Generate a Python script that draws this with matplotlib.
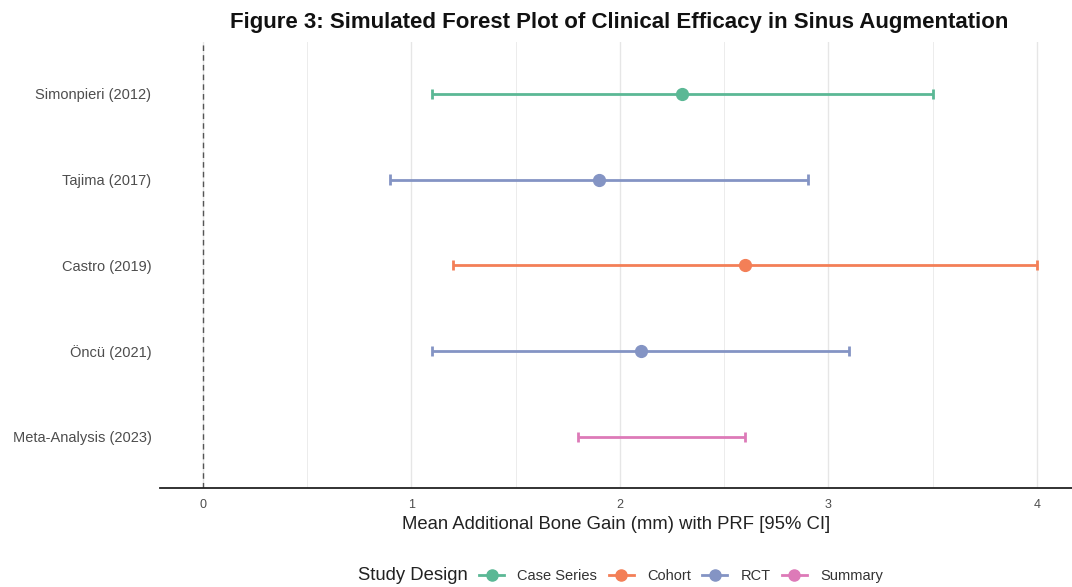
import matplotlib

matplotlib.use("Agg")
import matplotlib.pyplot as plt
import numpy as np
from matplotlib.lines import Line2D

plt.rcParams["font.family"] = ["Liberation Sans", "DejaVu Sans"]

# Data
studies = [
    "Simonpieri (2012)",
    "Tajima (2017)",
    "Castro (2019)",
    "Öncü (2021)",
    "Meta-Analysis (2023)",
]
estimate = [2.3, 1.9, 2.6, 2.1, np.nan]
ci_low = [1.1, 0.9, 1.2, 1.1, 1.8]
ci_high = [3.5, 2.9, 4.0, 3.1, 2.6]
design = ["Case Series", "RCT", "Cohort", "RCT", "Summary"]

design_order = ["Case Series", "Cohort", "RCT", "Summary"]
palette = {
    "Case Series": "#5bb895",
    "Cohort": "#f37f57",
    "RCT": "#8494c4",
    "Summary": "#dd7ab8",
}

fig = plt.figure(figsize=(10.72, 5.87), dpi=100)
ax = fig.add_axes([0.149, 0.168, 0.851, 0.760])

# top row first, like ggplot's discrete axis
ypos = np.arange(len(studies))[::-1] + 1

for y, est, lo, hi, d in zip(ypos, estimate, ci_low, ci_high, design):
    col = palette[d]
    ax.hlines(y, lo, hi, color=col, linewidth=2.0, zorder=3)
    ax.vlines([lo, hi], y - 0.06, y + 0.06, color=col, linewidth=2.0, zorder=3)
    if not np.isnan(est):
        ax.plot(est, y, "o", color=col, markersize=8.5, zorder=4)

ax.axvline(0, color="#555555", linestyle=(0, (4, 3)), linewidth=1.0, zorder=2)

ax.set_xlim(-0.206, 4.168)
ax.set_ylim(0.4, len(studies) + 0.6)
ax.set_yticks(ypos)
ax.set_yticklabels(studies)
ax.set_xticks([0, 1, 2, 3, 4])
ax.set_xticks([0.5, 1.5, 2.5, 3.5], minor=True)
ax.grid(axis="x", which="major", color="#e6e6e6", linewidth=1.0, zorder=0)
ax.grid(axis="x", which="minor", color="#ececec", linewidth=0.7, zorder=0)
ax.set_axisbelow(True)

for s in ["top", "right", "left"]:
    ax.spines[s].set_visible(False)
ax.spines["bottom"].set_color("#222222")
ax.spines["bottom"].set_linewidth(1.3)
ax.tick_params(axis="both", which="both", length=0, labelcolor="#4d4d4d")
ax.tick_params(axis="x", labelsize=9, pad=8)
ax.tick_params(axis="y", labelsize=10.5, pad=6)

ax.set_xlabel(
    "Mean Additional Bone Gain (mm) with PRF [95% CI]", fontsize=13.3, color="#222222",
    labelpad=3,
)
fig.text(
    0.578, 0.961,
    "Figure 3: Simulated Forest Plot of Clinical Efficacy in Sinus Augmentation",
    ha="center", va="center", fontsize=16, fontweight="bold", color="#111111",
)

# legend along the bottom, title to the left
handles = [
    Line2D([0], [0], color=palette[d], marker="o", markersize=8, linewidth=2.0)
    for d in design_order
]
fig.text(0.334, 0.019, "Study Design", fontsize=13.3, color="#222222", va="center")
fig.legend(
    handles, design_order, loc="center left", bbox_to_anchor=(0.435, 0.019),
    ncol=4, frameon=False, fontsize=10.5, handlelength=1.7, handletextpad=0.9,
    columnspacing=0.8, labelcolor="#333333",
)

fig.savefig("out.png", dpi=100)
